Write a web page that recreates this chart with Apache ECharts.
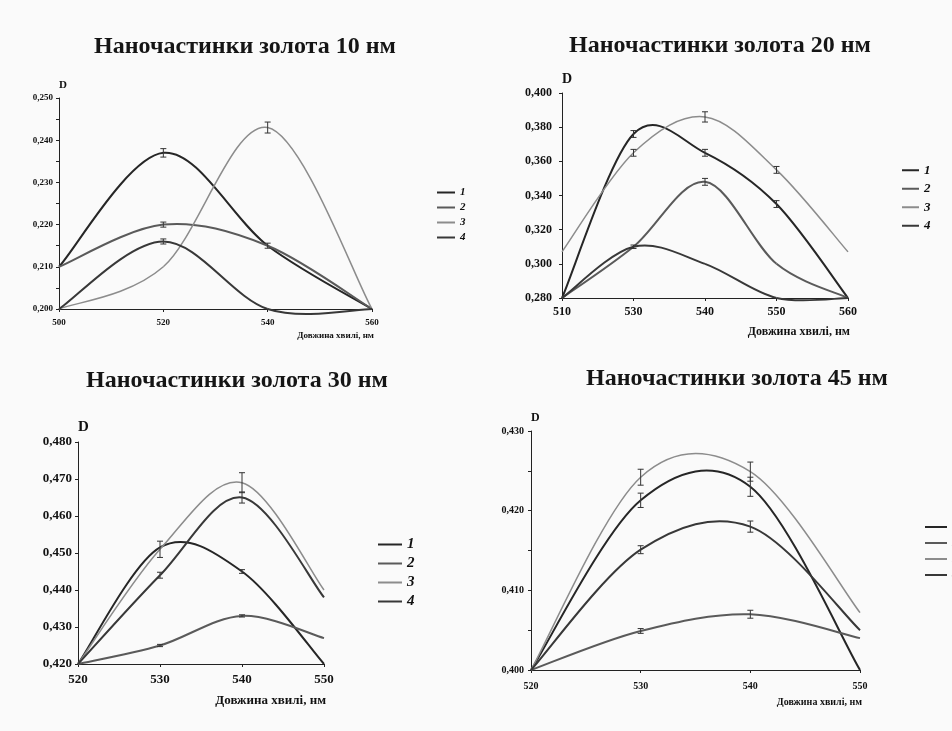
<!DOCTYPE html>
<html>
<head>
<meta charset="utf-8">
<script src="https://cdn.jsdelivr.net/npm/echarts@6/dist/echarts.min.js"></script>
<style>
html, body { margin: 0; padding: 0; background: #fafafa; }
#main { width: 952px; height: 731px; }
</style>
</head>
<body>
<div id="main"></div>
<script>
// 10 нм
var wave10 = ['500', '520', '540', '560'];
var d10_1 = [0.210, 0.237, 0.215, 0.200];
var d10_2 = [0.210, 0.220, 0.215, 0.200];
var d10_3 = [0.200, 0.210, 0.243, 0.200];
var d10_4 = [0.200, 0.216, 0.200, 0.200];
// [індекс довжини хвилі, значення, похибка]
var err10 = [[1, 0.237, 0.0010], [1, 0.220, 0.0006], [1, 0.216, 0.0006], [2, 0.243, 0.0013], [2, 0.215, 0.0006]];

// 20 нм
var wave20 = ['510', '530', '540', '550', '560'];
var d20_1 = [0.280, 0.376, 0.365, 0.335, 0.280];
var d20_2 = [0.280, 0.310, 0.348, 0.300, 0.280];
var d20_3 = [0.307, 0.365, 0.386, 0.355, 0.307];
var d20_4 = [0.280, 0.310, 0.300, 0.280, 0.280];
var err20 = [[1, 0.376, 0.002], [1, 0.365, 0.002], [1, 0.310, 0.001], [2, 0.386, 0.003], [2, 0.365, 0.002],
             [2, 0.348, 0.002], [3, 0.355, 0.002], [3, 0.335, 0.002]];

// 30 нм
var wave30 = ['520', '530', '540', '550'];
var d30_1 = [0.420, 0.4515, 0.445, 0.420];
var d30_2 = [0.420, 0.425, 0.433, 0.427];
var d30_3 = [0.420, 0.451, 0.469, 0.440];
var d30_4 = [0.420, 0.444, 0.465, 0.438];
var err30 = [[1, 0.451, 0.0022], [1, 0.444, 0.0008], [1, 0.425, 0.0003], [2, 0.469, 0.0027], [2, 0.465, 0.0015],
             [2, 0.445, 0.0005], [2, 0.433, 0.0003]];

// 45 нм
var wave45 = ['520', '530', '540', '550'];
var d45_1 = [0.400, 0.4213, 0.423, 0.400];
var d45_2 = [0.400, 0.4049, 0.407, 0.404];
var d45_3 = [0.400, 0.4242, 0.4249, 0.4072];
var d45_4 = [0.400, 0.4151, 0.418, 0.405];
var err45 = [[1, 0.4242, 0.0010], [1, 0.4213, 0.0009], [1, 0.4151, 0.0005], [1, 0.4049, 0.0003],
             [2, 0.4249, 0.0012], [2, 0.4230, 0.0012], [2, 0.4180, 0.0007], [2, 0.4070, 0.0005]];

var titles = ['Наночастинки золота 10 нм', 'Наночастинки золота 20 нм', 'Наночастинки золота 30 нм', 'Наночастинки золота 45 нм'];
var names = ['1', '2', '3', '4'];
var colors = ['#262626', '#5a5a5a', '#8c8c8c', '#383838'];
var xName = 'Довжина хвилі, нм';

var serif = '"Liberation Serif", "DejaVu Serif", serif';

var chart = echarts.init(document.getElementById('main'));

// згладжена крива як в Excel (Catmull-Rom), точки беруться через api.coord
function curve(gi, d, i) {
  return {
    type: 'custom', name: names[i], xAxisIndex: gi, yAxisIndex: gi, z: 3, silent: true,
    data: d.map(function (v, k) { return [k, v]; }),
    encode: { x: 0, y: 1 },
    itemStyle: { color: colors[i] },
    renderItem: function (params, api) {
      var k = params.dataIndex;
      if (k >= d.length - 1) return;
      var pt = function (j) {
        j = Math.max(0, Math.min(d.length - 1, j));
        return api.coord([j, d[j]]);
      };
      var p0 = pt(k - 1), p1 = pt(k), p2 = pt(k + 1), p3 = pt(k + 2);
      return {
        type: 'bezierCurve',
        shape: {
          x1: p1[0], y1: p1[1], x2: p2[0], y2: p2[1],
          cpx1: p1[0] + (p2[0] - p0[0]) / 6, cpy1: p1[1] + (p2[1] - p0[1]) / 6,
          cpx2: p2[0] - (p3[0] - p1[0]) / 6, cpy2: p2[1] - (p3[1] - p1[1]) / 6
        },
        style: { stroke: colors[i], lineWidth: i == 2 ? 1.5 : 2, fill: null }
      };
    }
  };
}

function renderErr(params, api) {
  var x = api.value(0), v = api.value(1), e = api.value(2);
  var a = api.coord([x, v + e]);
  var b = api.coord([x, v - e]);
  var st = { stroke: '#333', lineWidth: 1 };
  return {
    type: 'group',
    children: [
      { type: 'line', shape: { x1: a[0], y1: a[1], x2: b[0], y2: b[1] }, style: st },
      { type: 'line', shape: { x1: a[0] - 3, y1: a[1], x2: a[0] + 3, y2: a[1] }, style: st },
      { type: 'line', shape: { x1: b[0] - 3, y1: b[1], x2: b[0] + 3, y2: b[1] }, style: st }
    ]
  };
}

function errs(gi, d) {
  return { type: 'custom', xAxisIndex: gi, yAxisIndex: gi, data: d, renderItem: renderErr, z: 4, silent: true, encode: { x: 0, y: 1 } };
}

function xAxis(gi, cats, fs, margin, pad) {
  return {
    type: 'category', gridIndex: gi, data: cats, boundaryGap: false,
    axisLine: { lineStyle: { color: '#222', width: 1 } },
    axisTick: { show: true, alignWithLabel: true, length: 3, lineStyle: { color: '#222' } },
    axisLabel: { fontFamily: serif, fontWeight: 'bold', fontSize: fs, color: '#111', margin: margin },
    name: xName, nameLocation: 'end', nameGap: 2,
    nameTextStyle: { fontFamily: serif, fontWeight: 'bold', fontSize: fs, color: '#111', align: 'right', verticalAlign: 'top', padding: [pad, 0, 0, 0] }
  };
}

function yAxis(gi, min, max, step, fs, margin, minor) {
  return {
    type: 'value', gridIndex: gi, min: min, max: max, interval: step,
    splitLine: { show: false },
    axisLine: { show: true, lineStyle: { color: '#222', width: 1 } },
    axisTick: { show: true, length: 3, lineStyle: { color: '#222' } },
    minorTick: { show: minor, splitNumber: 2, length: 3, lineStyle: { color: '#222' } },
    axisLabel: {
      fontFamily: serif, fontWeight: 'bold', fontSize: fs, color: '#111', margin: margin,
      formatter: function (v) { return v.toFixed(3).replace('.', ','); }
    },
    name: 'D', nameLocation: 'end', nameGap: 7,
    nameTextStyle: { fontFamily: serif, fontWeight: 'bold', fontSize: fs + 2, color: '#111', align: 'left' }
  };
}

function legend(left, top, lh, fs, w) {
  return {
    data: names, orient: 'vertical', left: left, top: top, padding: 0,
    icon: 'rect', itemWidth: w, itemHeight: 2, itemGap: 0, selectedMode: false,
    textStyle: { fontFamily: serif, fontWeight: 'bold', fontStyle: 'italic', fontSize: fs, color: '#111', lineHeight: lh }
  };
}

function title(text, x, y) {
  return {
    text: text, left: x, top: y, textAlign: 'center', padding: 0,
    textStyle: { fontFamily: serif, fontWeight: 'bold', fontSize: 24, color: '#151515' }
  };
}

var option = {
  backgroundColor: '#fafafa',
  animation: false,
  title: [
    title(titles[0], 245, 35),
    title(titles[1], 720, 34),
    title(titles[2], 237, 369),
    title(titles[3], 737, 367)
  ],
  legend: [
    legend(437, 185, 15, 11, 18),
    legend(902, 161, 18.5, 13, 17),
    legend(378, 535, 19, 15, 24),
    legend(925, 519, 16, 12, 22)
  ],
  grid: [
    { left: 59, top: 98, width: 313, height: 211 },
    { left: 562, top: 93, width: 286, height: 205 },
    { left: 78, top: 442, width: 246, height: 222 },
    { left: 531, top: 431, width: 329, height: 239 }
  ],
  xAxis: [
    xAxis(0, wave10, 9, 9, 22),
    xAxis(1, wave20, 12, 8, 28),
    xAxis(2, wave30, 13, 9, 30),
    xAxis(3, wave45, 10, 11, 27)
  ],
  yAxis: [
    yAxis(0, 0.200, 0.250, 0.010, 9, 6, true),
    yAxis(1, 0.280, 0.400, 0.020, 12, 10, false),
    yAxis(2, 0.420, 0.480, 0.010, 13, 6, false),
    yAxis(3, 0.400, 0.430, 0.010, 10, 7, true)
  ],
  series: [].concat(
    [0, 1, 2, 3].map(function (i) { return curve(0, [d10_1, d10_2, d10_3, d10_4][i], i); }), [errs(0, err10)],
    [0, 1, 2, 3].map(function (i) { return curve(1, [d20_1, d20_2, d20_3, d20_4][i], i); }), [errs(1, err20)],
    [0, 1, 2, 3].map(function (i) { return curve(2, [d30_1, d30_2, d30_3, d30_4][i], i); }), [errs(2, err30)],
    [0, 1, 2, 3].map(function (i) { return curve(3, [d45_1, d45_2, d45_3, d45_4][i], i); }), [errs(3, err45)]
  )
};

chart.setOption(option);
</script>
</body>
</html>
